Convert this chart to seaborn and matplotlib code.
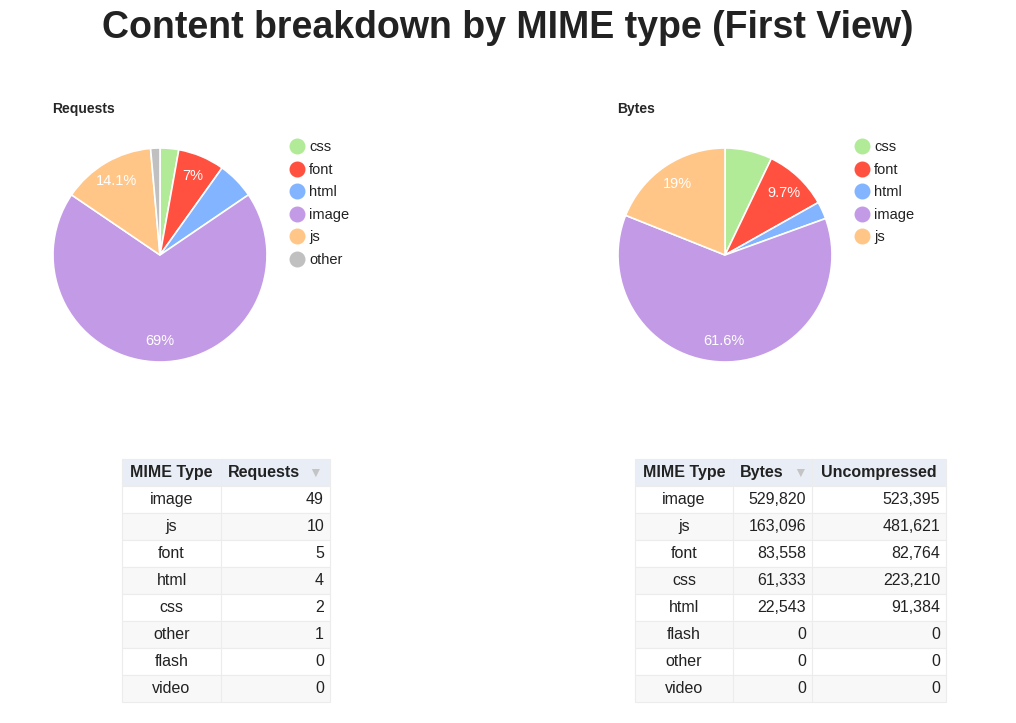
import matplotlib
matplotlib.use("Agg")
import matplotlib.pyplot as plt
import seaborn as sns
import numpy as np
from matplotlib.patches import Rectangle

# pie data (in drawing order, clockwise from top)
pie_types = ['css', 'font', 'html', 'image', 'js', 'other']
req_counts = [2, 5, 4, 49, 10, 1]
byte_types = ['css', 'font', 'html', 'image', 'js']
byte_counts = [61333, 83558, 22543, 529820, 163096]
req_labeled = ['font', 'image', 'js']
byte_labeled = ['font', 'image', 'js']

# table data
req_tbl_types = ['image', 'js', 'font', 'html', 'css', 'other', 'flash', 'video']
req_tbl_vals = [49, 10, 5, 4, 2, 1, 0, 0]
byte_tbl_types = ['image', 'js', 'font', 'css', 'html', 'flash', 'other', 'video']
byte_tbl_vals = [529820, 163096, 83558, 61333, 22543, 0, 0, 0]
byte_tbl_unc = [523395, 481621, 82764, 223210, 91384, 0, 0, 0]

colors = {'css': '#b2eb98', 'font': '#ff5040', 'html': '#82b4ff',
          'image': '#c39ae6', 'js': '#ffc687', 'other': '#c0c0c0'}

sns.set_style("white")
plt.rcParams['font.family'] = 'Liberation Sans'
W, H = 1016, 723
fig = plt.figure(figsize=(W / 100, H / 100), dpi=100)

bg = fig.add_axes([0, 0, 1, 1])
bg.set_xlim(0, W)
bg.set_ylim(H, 0)
bg.axis('off')

bg.text(508, 28, 'Content breakdown by MIME type (First View)', ha='center', va='center',
        fontsize=27, fontweight='bold', color='#222222')


def draw_pie(cx, cy, r, title, types, vals, labeled):
    ax = fig.add_axes([(cx - r) / W, (H - cy - r) / H, 2 * r / W, 2 * r / H])
    wedges, _ = ax.pie(vals, colors=[colors[t] for t in types], startangle=90, counterclock=False,
                       wedgeprops=dict(edgecolor='white', linewidth=1.2))
    ax.set_xlim(-1, 1)
    ax.set_ylim(-1, 1)
    ax.set_aspect('equal')
    total = sum(vals)
    for w, t, v in zip(wedges, types, vals):
        if t in labeled:
            a = np.deg2rad((w.theta1 + w.theta2) / 2)
            pct = 100 * v / total
            s = f'{pct:.0f}%' if abs(pct - round(pct)) < 0.05 else f'{pct:.1f}%'
            ax.text(0.8 * np.cos(a), 0.8 * np.sin(a), s, ha='center', va='center',
                    color='white', fontsize=10.5)
    bg.text(cx - 108, 109, title, ha='left', va='center', fontsize=10, fontweight='bold')
    for i, t in enumerate(types):
        y = 146 + i * 22.5
        bg.scatter([cx + 137], [y], s=110, color=colors[t], zorder=3)
        bg.text(cx + 149, y + 1, t, ha='left', va='center', fontsize=10.5, color='#222222')


draw_pie(160, 255, 107, 'Requests', pie_types, req_counts, req_labeled)
draw_pie(725, 255, 107, 'Bytes', byte_types, byte_counts, byte_labeled)


def draw_table(edges, headers, header_x, columns, arrow_x):
    top, rh = 459, 27
    n = len(columns[0])
    for r in range(n + 1):
        y = top + r * rh
        fc = '#e9eef6' if r == 0 else ('#ffffff' if r % 2 == 1 else '#f8f8f8')
        bg.add_patch(Rectangle((edges[0], y), edges[-1] - edges[0], rh, facecolor=fc,
                               edgecolor='#ececec', linewidth=0.8))
        for c in range(1, len(edges) - 1):
            bg.plot([edges[c], edges[c]], [y, y + rh], color='#ececec', lw=0.8)
    for h, xc in zip(headers, header_x):
        bg.text(xc, top + rh / 2, h, ha='center', va='center', fontsize=11.5,
                fontweight='bold', color='#222222')
    bg.text(arrow_x, top + rh / 2, '\u25BC', ha='center', va='center', fontsize=10, color='#c4c4c4')
    for c, col in enumerate(columns):
        for r, v in enumerate(col):
            y = top + (r + 1.5) * rh
            if c == 0:
                bg.text((edges[0] + edges[1]) / 2, y, v, ha='center', va='center', fontsize=11.5, color='#222222')
            else:
                bg.text(edges[c + 1] - 6, y, f'{v:,}', ha='right', va='center', fontsize=11.5, color='#222222')


draw_table([122, 221, 330], ['MIME Type', 'Requests'], [171, 264],
           [req_tbl_types, req_tbl_vals], 315)
draw_table([635, 733, 812, 946], ['MIME Type', 'Bytes', 'Uncompressed'], [684, 762, 879],
           [byte_tbl_types, byte_tbl_vals, byte_tbl_unc], 800)

fig.savefig('out.png', dpi=100)
